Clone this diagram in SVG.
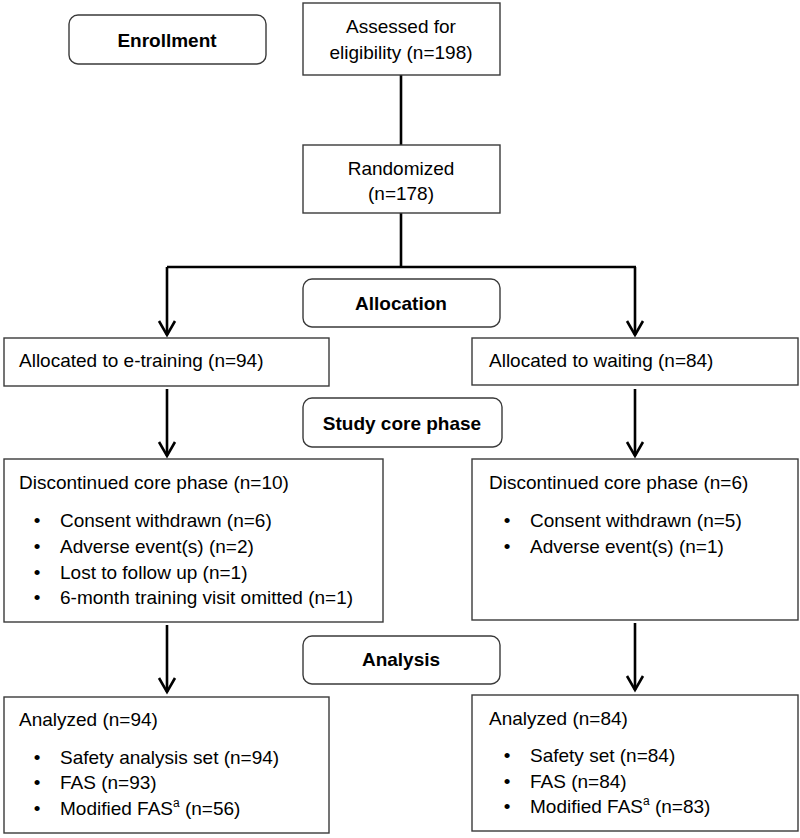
<svg xmlns="http://www.w3.org/2000/svg" width="800" height="838" viewBox="0 0 800 838">
<style>
.box{fill:#fff;stroke:#3a3a3a;stroke-width:1.4}
.t{font-family:"Liberation Sans",Arial,sans-serif;font-size:19px;fill:#000}
.b{font-weight:bold}
.c{text-anchor:middle}
.ln{stroke:#000;stroke-width:2.6;fill:none}
.ah{stroke:#000;stroke-width:2.6;fill:none;stroke-linejoin:miter}
</style>
<rect width="800" height="838" fill="#fff"/>
<g id="connectors">
<line class="ln" x1="401" y1="75" x2="401" y2="145"/>
<line class="ln" x1="401" y1="213" x2="401" y2="267"/>
<line class="ln" x1="167" y1="267" x2="636" y2="267" stroke-width="3"/>
<line class="ln" x1="167" y1="267" x2="167" y2="335"/>
<polyline class="ah" points="159,321 167,335 175,321"/>
<line class="ln" x1="635" y1="267" x2="635" y2="335"/>
<polyline class="ah" points="627,321 635,335 643,321"/>
<line class="ln" x1="167" y1="389" x2="167" y2="456"/>
<polyline class="ah" points="159,442 167,456 175,442"/>
<line class="ln" x1="635" y1="389" x2="635" y2="456"/>
<polyline class="ah" points="627,442 635,456 643,442"/>
<line class="ln" x1="167" y1="625" x2="167" y2="692"/>
<polyline class="ah" points="159,678 167,692 175,678"/>
<line class="ln" x1="635" y1="623" x2="635" y2="690"/>
<polyline class="ah" points="627,676 635,690 643,676"/>
</g>
<g id="enrollment">
<rect class="box" x="69" y="15" width="197" height="49" rx="9"/>
<text class="t b c" x="167" y="47">Enrollment</text>
</g>
<g id="assessed">
<rect class="box" x="303" y="3" width="197" height="72"/>
<text class="t c" x="401" y="33">Assessed for</text>
<text class="t c" x="401" y="59">eligibility (n=198)</text>
</g>
<g id="randomized">
<rect class="box" x="303" y="145" width="197" height="68"/>
<text class="t c" x="401" y="175">Randomized</text>
<text class="t c" x="401" y="200">(n=178)</text>
</g>
<g id="allocation">
<rect class="box" x="303" y="279" width="197" height="48" rx="9"/>
<text class="t b c" x="401" y="310">Allocation</text>
</g>
<g id="alloc-etraining">
<rect class="box" x="4" y="338" width="325" height="48"/>
<text class="t" x="19" y="367">Allocated to e-training (n=94)</text>
</g>
<g id="alloc-waiting">
<rect class="box" x="472" y="338" width="326" height="47"/>
<text class="t" x="489" y="367">Allocated to waiting (n=84)</text>
</g>
<g id="study-core">
<rect class="box" x="303" y="398" width="199" height="49" rx="9"/>
<text class="t b c" x="402" y="430">Study core phase</text>
</g>
<g id="disc-left">
<rect class="box" x="4" y="459" width="379" height="163"/>
<text class="t" x="19" y="489">Discontinued core phase (n=10)</text>
<text class="t c" x="37" y="527">•</text><text class="t" x="60" y="527">Consent withdrawn (n=6)</text>
<text class="t c" x="37" y="553">•</text><text class="t" x="60" y="553">Adverse event(s) (n=2)</text>
<text class="t c" x="37" y="579">•</text><text class="t" x="60" y="579">Lost to follow up (n=1)</text>
<text class="t c" x="37" y="604">•</text><text class="t" x="60" y="604">6-month training visit omitted (n=1)</text>
</g>
<g id="disc-right">
<rect class="box" x="472" y="459" width="326" height="161"/>
<text class="t" x="489" y="489">Discontinued core phase (n=6)</text>
<text class="t c" x="507" y="527">•</text><text class="t" x="530" y="527">Consent withdrawn (n=5)</text>
<text class="t c" x="507" y="553">•</text><text class="t" x="530" y="553">Adverse event(s) (n=1)</text>
</g>
<g id="analysis">
<rect class="box" x="303" y="636" width="197" height="48" rx="9"/>
<text class="t b c" x="401" y="666">Analysis</text>
</g>
<g id="analyzed-left">
<rect class="box" x="4" y="697" width="325" height="136"/>
<text class="t" x="19" y="726">Analyzed (n=94)</text>
<text class="t c" x="37" y="764">•</text><text class="t" x="60" y="764">Safety analysis set (n=94)</text>
<text class="t c" x="37" y="789">•</text><text class="t" x="60" y="789">FAS (n=93)</text>
<text class="t c" x="37" y="815">•</text><text class="t" x="60" y="815">Modified FAS<tspan font-size="12" dy="-8">a</tspan><tspan dy="8"> (n=56)</tspan></text>
</g>
<g id="analyzed-right">
<rect class="box" x="472" y="695" width="326" height="136"/>
<text class="t" x="489" y="725">Analyzed (n=84)</text>
<text class="t c" x="507" y="762">•</text><text class="t" x="530" y="762">Safety set (n=84)</text>
<text class="t c" x="507" y="788">•</text><text class="t" x="530" y="788">FAS (n=84)</text>
<text class="t c" x="507" y="813">•</text><text class="t" x="530" y="813">Modified FAS<tspan font-size="12" dy="-8">a</tspan><tspan dy="8"> (n=83)</tspan></text>
</g>
</svg>
